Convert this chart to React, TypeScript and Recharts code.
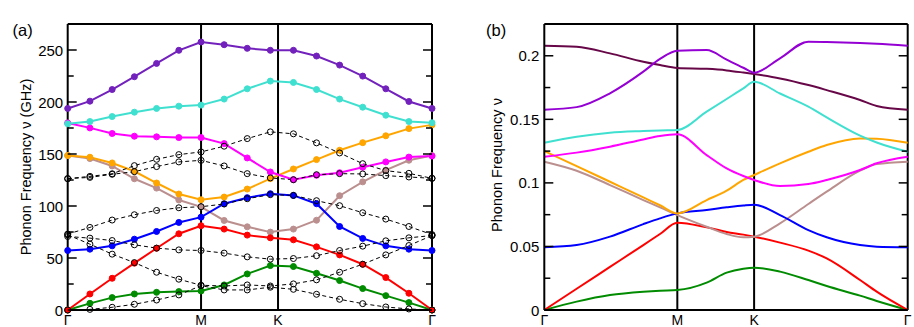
import React from 'react';
import { LineChart, Line, XAxis, YAxis, ReferenceLine } from 'recharts';

// high-symmetry points along the path (units of 2pi/a)
const M_PT = 0.5774;
const K_PT = 0.9107;
const G_END = 1.5774;

const pathTicks = [0, M_PT, K_PT, G_END];
const pathLabels = ['Γ', 'M', 'K', 'Γ'];

// ---- panel (a): sampled bands, GHz ----
const kPathA = [0, 0.0962, 0.1925, 0.2887, 0.3849, 0.4812, 0.5774, 0.6774, 0.7774, 0.8774, 0.9774,
  1.0774, 1.1774, 1.2774, 1.3774, 1.4774, 1.5774];

const bandIndigoA = [193.8, 200.8, 212, 224.3, 237.1, 249.7, 257.7, 255.1, 251.6, 249.7, 249.7, 244.2, 235.5, 224.9, 212.7, 200.5, 193.8];
const bandTurquoiseA = [179, 181.2, 186, 190.2, 193.8, 196, 197, 202.8, 212.7, 220.1, 218.8, 212, 202.8, 195, 187.3, 181.2, 180];
const bandMagentaA = [179.9, 175.1, 169.7, 167.1, 166.5, 165.8, 165.8, 160, 146.2, 132.7, 125.3, 129.5, 132, 137.2, 142.4, 147, 148];
const bandOrangeA = [148.5, 146.9, 141.4, 133.4, 122.1, 111.5, 106, 108.6, 116.3, 126.3, 135.6, 144.6, 153.6, 160.9, 167.5, 174.4, 178];
const bandBrownA = [148.5, 145.6, 138.5, 126.2, 117.2, 105.8, 99.2, 86.1, 80, 74.9, 77.8, 86.3, 109.9, 123.2, 134.5, 144, 148.5];
const bandBlueA = [57.2, 58.5, 61.7, 68.1, 75.5, 84.2, 89.3, 102.2, 108, 111.8, 110.2, 102.2, 80.3, 68.8, 61.7, 58.5, 57.2];
const bandRedA = [0, 15.4, 30.5, 45, 59.4, 73.3, 81, 77.8, 72, 69.4, 67.5, 60.7, 53, 44, 31.2, 16.1, 0];
const bandGreenA = [0, 6.4, 11.9, 15.4, 17, 17.7, 18.3, 24.1, 34.7, 42.7, 41.8, 35.3, 28.3, 20.6, 13.8, 7.1, 0];

const dashed1A = [126.3, 128.5, 131, 138.8, 144.9, 149.4, 152, 157.5, 164.8, 171.3, 169.4, 160.7, 151, 140.7, 134, 131.4, 126.6];
const dashed2A = [126.3, 127.5, 130.5, 133, 137.9, 142.4, 143.9, 138.5, 131.1, 127, 125.3, 130.1, 131.1, 130.8, 129.2, 127.9, 126.6];
const dashed3A = [73, 79.4, 86.5, 91.6, 95.7, 98.3, 99.3, 101.9, 107, 110.9, 110.2, 105.1, 100.3, 93.5, 87.4, 80.3, 72.5];
const dashed4A = [70.7, 69.1, 66.8, 62.7, 59.5, 57.8, 57.2, 54.7, 51.1, 48.9, 49.5, 52.2, 57.2, 61.4, 66.5, 69.4, 71.6];
const dashed5A = [72.3, 63.3, 53.7, 45.6, 36.3, 29.6, 23.8, 23.1, 24.1, 23.1, 25.1, 29, 36.3, 44, 53, 62, 71.6];
const dashed6A = [0, 0.6, 2.6, 5.5, 9.6, 14.5, 23.4, 19.3, 19.3, 21.9, 19.9, 15.1, 10.3, 6.1, 2.9, 1, 0];

const yTicksA = [0, 25, 50, 75, 100, 125, 150, 175, 200, 225, 250];
const yLabelsA = ['0', '', '50', '', '100', '', '150', '', '200', '', '250'];

// ---- panel (b): smooth bands ----
const kPathB = [0, 0.1404, 0.2851, 0.4298, 0.5022, 0.5774, 0.7048, 0.7916, 0.864, 0.9107,
  1.0232, 1.1462, 1.2258, 1.3705, 1.4428, 1.5774];

const bandMaroonB = [0.2079, 0.2071, 0.2019, 0.1953, 0.1927, 0.1904, 0.1897, 0.1885, 0.1868, 0.1856, 0.1822, 0.177, 0.173, 0.1652, 0.1605, 0.1576];
const bandVioletB = [0.1576, 0.1596, 0.1705, 0.1875, 0.1975, 0.204, 0.2045, 0.1969, 0.1906, 0.1867, 0.198, 0.2111, 0.2109, 0.2101, 0.2095, 0.2079];
const bandTurquoiseB = [0.1316, 0.1363, 0.1395, 0.1408, 0.1413, 0.1416, 0.156, 0.166, 0.1744, 0.1796, 0.1703, 0.16, 0.1515, 0.1372, 0.1318, 0.1245];
const bandMagentaB = [0.1206, 0.1238, 0.1285, 0.1342, 0.1369, 0.1382, 0.1219, 0.1114, 0.1054, 0.1023, 0.0975, 0.0991, 0.1023, 0.1101, 0.1154, 0.1206];
const bandOrangeB = [0.1251, 0.1132, 0.1009, 0.0886, 0.0824, 0.076, 0.0865, 0.0939, 0.1023, 0.1062, 0.1154, 0.1245, 0.1298, 0.135, 0.1348, 0.1316];
const bandBrownB = [0.1167, 0.1096, 0.0983, 0.0865, 0.0808, 0.0747, 0.0655, 0.0598, 0.0572, 0.0577, 0.0682, 0.0834, 0.0931, 0.1096, 0.1148, 0.1167];
const bandBlueB = [0.0493, 0.0511, 0.0577, 0.0676, 0.0721, 0.076, 0.0787, 0.0808, 0.0823, 0.0829, 0.0747, 0.0629, 0.0572, 0.0511, 0.0498, 0.0493];
const bandRedB = [0, 0.0167, 0.0339, 0.0511, 0.0598, 0.0687, 0.065, 0.0614, 0.0593, 0.0577, 0.053, 0.0467, 0.0406, 0.0236, 0.0144, 0];
const bandGreenB = [0, 0.0066, 0.0118, 0.0144, 0.0152, 0.0157, 0.0215, 0.0294, 0.0325, 0.0333, 0.0302, 0.0236, 0.0189, 0.0113, 0.0071, 0];

const yTicksB = [0, 0.025, 0.05, 0.075, 0.1, 0.125, 0.15, 0.175, 0.2];
const yLabelsB = ['0', '', '0.05', '', '0.1', '', '0.15', '', '0.2'];

const FONT = '"Liberation Sans", Arial, Helvetica, sans-serif';

const seriesA = [
  { key: 'brown', color: '#BC8F8F', values: bandBrownA },
  { key: 'green', color: '#008B00', values: bandGreenA },
  { key: 'red', color: '#FF0000', values: bandRedA },
  { key: 'blue', color: '#0000FF', values: bandBlueA },
  { key: 'orange', color: '#FFA500', values: bandOrangeA },
  { key: 'magenta', color: '#FF00FF', values: bandMagentaA },
  { key: 'turquoise', color: '#40E0D0', values: bandTurquoiseA },
  { key: 'indigo', color: '#7221BC', values: bandIndigoA },
];
const dashedA = [dashed1A, dashed2A, dashed3A, dashed4A, dashed5A, dashed6A];

const seriesB = [
  { key: 'green', color: '#008B00', values: bandGreenB },
  { key: 'red', color: '#FF0000', values: bandRedB },
  { key: 'brown', color: '#BC8F8F', values: bandBrownB },
  { key: 'blue', color: '#0000FF', values: bandBlueB },
  { key: 'orange', color: '#FFA500', values: bandOrangeB },
  { key: 'magenta', color: '#FF00FF', values: bandMagentaB },
  { key: 'turquoise', color: '#40E0D0', values: bandTurquoiseB },
  { key: 'maroon', color: '#670748', values: bandMaroonB },
  { key: 'violet', color: '#9400D3', values: bandVioletB },
];

const rowsA = kPathA.map((k, i) => {
  const row: any = { k };
  seriesA.forEach((s) => (row[s.key] = s.values[i]));
  dashedA.forEach((d, j) => (row['d' + j] = d[i]));
  return row;
});

const rowsB = kPathB.map((k, i) => {
  const row: any = { k };
  seriesB.forEach((s) => (row[s.key] = s.values[i]));
  return row;
});

const makeYTick = (ticks: number[], labels: string[], plotW: number, gap: number) => (props: any) => {
  const { x, y, payload } = props;
  const label = labels[ticks.indexOf(payload.value)] || '';
  const len = label ? 9 : 6;
  return (
    <g>
      <line x1={x} x2={x + len} y1={y} y2={y} stroke="#000" strokeWidth={1.5} />
      <line x1={x + plotW - len} x2={x + plotW} y1={y} y2={y} stroke="#000" strokeWidth={1.5} />
      {label && (
        <text x={x - gap} y={y} textAnchor="end" dominantBaseline="central" fontSize={15} fontFamily={FONT} fill="#000">
          {label}
        </text>
      )}
    </g>
  );
};

const XTick = (props: any) => {
  const { x, y, payload } = props;
  const label = pathLabels[pathTicks.indexOf(payload.value)];
  return (
    <text x={x} y={y + 15} textAnchor="middle" fontSize={14} fontFamily={FONT} fill="#000">
      {label}
    </text>
  );
};

const frameLines = (yTop: number) => [
  <ReferenceLine key="top" y={yTop} stroke="#000" strokeWidth={2} />,
  <ReferenceLine key="right" x={G_END} stroke="#000" strokeWidth={2} />,
  <ReferenceLine key="m" x={M_PT} stroke="#000" strokeWidth={2} />,
  <ReferenceLine key="k" x={K_PT} stroke="#000" strokeWidth={2} />,
];

function PanelA() {
  return (
    <LineChart width={460} height={327} data={rowsA} margin={{ top: 24, right: 28, bottom: 0, left: 0 }}>
      <XAxis dataKey="k" type="number" domain={[0, G_END]} ticks={pathTicks} interval={0}
        tick={<XTick />} tickLine={false} tickSize={0} tickMargin={0} height={17}
        axisLine={{ stroke: '#000', strokeWidth: 2 }} />
      <YAxis type="number" domain={[0, 275]} ticks={yTicksA} interval={0} width={67.7}
        tick={makeYTick(yTicksA, yLabelsA, 364.3, 4.5)} tickLine={false} tickSize={0} tickMargin={0}
        axisLine={{ stroke: '#000', strokeWidth: 2 }} />
      {frameLines(275)}
      {seriesA.map((s) => (
        <Line key={s.key} dataKey={s.key} type="linear" stroke={s.color} strokeWidth={2}
          dot={{ r: 3, fill: s.color, stroke: s.color, strokeWidth: 1 }} isAnimationActive={false} />
      ))}
      {dashedA.map((_, j) => (
        <Line key={'d' + j} dataKey={'d' + j} type="linear" stroke="#000" strokeWidth={1} strokeDasharray="4 3"
          dot={{ r: 3, fill: 'none', stroke: '#000', strokeWidth: 1, strokeDasharray: 'none' }} isAnimationActive={false} />
      ))}
    </LineChart>
  );
}

function PanelB() {
  return (
    <LineChart width={454} height={327} data={rowsB} margin={{ top: 24, right: 6.3, bottom: 0, left: 0 }}>
      <XAxis dataKey="k" type="number" domain={[0, G_END]} ticks={pathTicks} interval={0}
        tick={<XTick />} tickLine={false} tickSize={0} tickMargin={0} height={17}
        axisLine={{ stroke: '#000', strokeWidth: 2 }} />
      <YAxis type="number" domain={[0, 0.225]} ticks={yTicksB} interval={0} width={84.3}
        tick={makeYTick(yTicksB, yLabelsB, 363.4, 5)} tickLine={false} tickSize={0} tickMargin={0}
        axisLine={{ stroke: '#000', strokeWidth: 2 }} />
      {frameLines(0.225)}
      {seriesB.map((s) => (
        <Line key={s.key} dataKey={s.key} type="monotone" stroke={s.color} strokeWidth={2}
          dot={false} isAnimationActive={false} />
      ))}
    </LineChart>
  );
}

export default function App() {
  return (
    <div style={{ position: 'fixed', left: 0, top: 0, width: 914, height: 327, background: '#fff', overflow: 'hidden' }}>
      <div style={{ position: 'absolute', left: 0, top: 0 }}>
        <PanelA />
      </div>
      <div style={{ position: 'absolute', left: 460, top: 0 }}>
        <PanelB />
      </div>
      <svg width={914} height={327} style={{ position: 'absolute', left: 0, top: 0, pointerEvents: 'none' }}>
        <text x={12.5} y={36} fontSize={16.5} fontFamily={FONT} fill="#000">(a)</text>
        <text x={486} y={36} fontSize={16.5} fontFamily={FONT} fill="#000">(b)</text>
        <text transform="translate(31,167) rotate(-90)" textAnchor="middle" fontSize={14.5} fontFamily={FONT} fill="#000">
          Phonon Frequency ν (GHz)
        </text>
        <text transform="translate(502,165) rotate(-90)" textAnchor="middle" fontSize={14.5} fontFamily={FONT} fill="#000">
          Phonon Frequency ν
        </text>
      </svg>
    </div>
  );
}
